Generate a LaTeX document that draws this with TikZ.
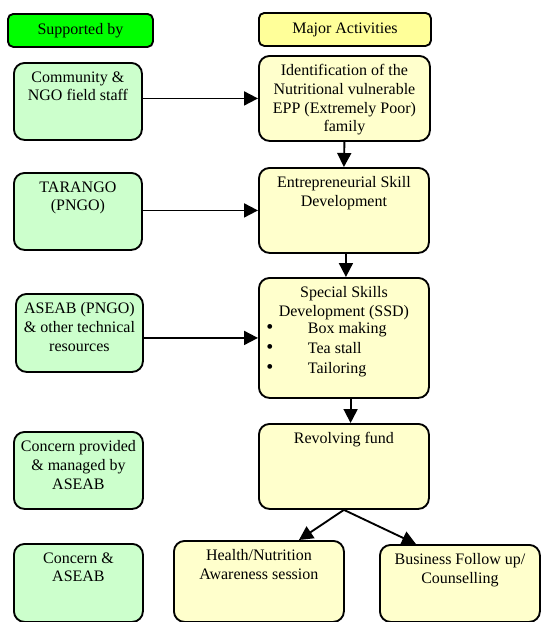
\documentclass[tikz,border=0pt]{standalone}
\usepackage{fontspec}
\setmainfont{Liberation Serif}
\usetikzlibrary{arrows.meta,calc}
\definecolor{hgreen}{HTML}{00FF00}
\definecolor{hyellow}{HTML}{FFFF99}
\definecolor{lgreen}{HTML}{CCFFCC}
\definecolor{lyellow}{HTML}{FFFFCC}
\tikzset{
  base/.style={draw=black, line width=1.4pt, rounded corners=8pt, inner sep=0pt, anchor=north west},
  gbox/.style={base, fill=lgreen},
  ybox/.style={base, fill=lyellow},
  hbox/.style={base, rounded corners=4pt},
  txt/.style={font=\fontsize{12}{14}\selectfont, align=center, inner sep=0pt, anchor=north},
  arr/.style={-{Triangle[length=10.5pt,width=10.5pt]}, line width=1.4pt},
}
\newcommand\mybox[6]{\node[#2, minimum width=#5*0.75pt, minimum height=#6*0.75pt] (#1) at (#3,#4) {};}
\newcommand\blt{{\fontsize{15}{14}\selectfont\textbullet}}
\begin{document}
\begin{tikzpicture}[x=0.75pt,y=-0.75pt]
\useasboundingbox (0,0) rectangle (541,622);
% headers
\mybox{sup}{hbox, fill=hgreen}{7}{13}{145}{33}
\node[txt, anchor=center] (supt) at (sup.center) {Supported by};
\mybox{maj}{hbox, fill=hyellow}{258}{12}{172}{33}
\node[txt, anchor=center] (majt) at (maj.center) {Major Activities};
% left column
\mybox{c1}{gbox}{13}{62}{128}{77}
\node[txt] (c1t) at ([yshift=-7pt]c1.north) {Community \&\\NGO field staff};
\mybox{c2}{gbox}{13}{172}{128}{77}
\node[txt] (c2t) at ([yshift=-7pt]c2.north) {TARANGO\\(PNGO)};
\mybox{c3}{gbox}{15}{293}{127}{78}
\node[txt] (c3t) at ([yshift=-7pt]c3.north) {ASEAB (PNGO)\\\& other technical\\resources};
\mybox{c4}{gbox}{13}{431}{129}{77}
\node[txt] (c4t) at ([yshift=-7pt]c4.north) {Concern provided\\\& managed by\\ASEAB};
\mybox{c5}{gbox}{13}{543}{129}{78}
\node[txt] (c5t) at ([yshift=-7pt]c5.north) {Concern \&\\ASEAB};
% right column
\mybox{a1}{ybox}{258}{55}{171}{85}
\node[txt] (a1t) at ([yshift=-7pt]a1.north) {Identification of the\\Nutritional vulnerable\\EPP (Extremely Poor)\\family};
\mybox{a2}{ybox}{258}{167}{170}{85}
\node[txt] (a2t) at ([yshift=-7pt]a2.north) {Entrepreneurial Skill\\Development};
\mybox{a3}{ybox}{258}{277}{170}{120}
\node[txt] (a3t) at ([yshift=-7pt]a3.north) {Special Skills\\Development (SSD)};
\node[txt, anchor=north west, align=left] (a3l) at ([xshift=6pt]a3t.south -| a3.west)
  {\begin{tabular}{@{}l@{\hspace{26pt}}l@{}}\blt & Box making\\[1pt] \blt & Tea stall\\[1pt] \blt & Tailoring\end{tabular}};
\mybox{a4}{ybox}{258}{423}{170}{85}
\node[txt] (a4t) at ([yshift=-7pt]a4.north) {Revolving fund};
\mybox{a5}{ybox}{173}{540}{170}{81}
\node[txt] (a5t) at ([yshift=-7pt]a5.north) {Health/Nutrition\\Awareness session};
\mybox{a6}{ybox}{379}{544}{160}{77}
\node[txt] (a6t) at ([yshift=-7pt]a6.north) {Business Follow up/\\Counselling};
% connectors
\draw[arr] (c1.east |- a1.west) -- (a1.west);
\draw[arr] (c2.east |- a2.west) -- (a2.west);
\draw[arr] (c3.east |- a3.west) -- (a3.west);
\draw[arr] (a1.south) -- (a2.north);
\draw[arr] ([xshift=1.5pt]a2.south) -- ([xshift=1.5pt]a3.north);
\draw[arr] ([xshift=5pt]a3.south) -- ([xshift=5pt]a4.north);
\draw[arr] (a4.south) -- ([xshift=30pt]a5.north);
\draw[arr] (a4.south) -- ([xshift=-33pt]a6.north);
\end{tikzpicture}
\end{document}
